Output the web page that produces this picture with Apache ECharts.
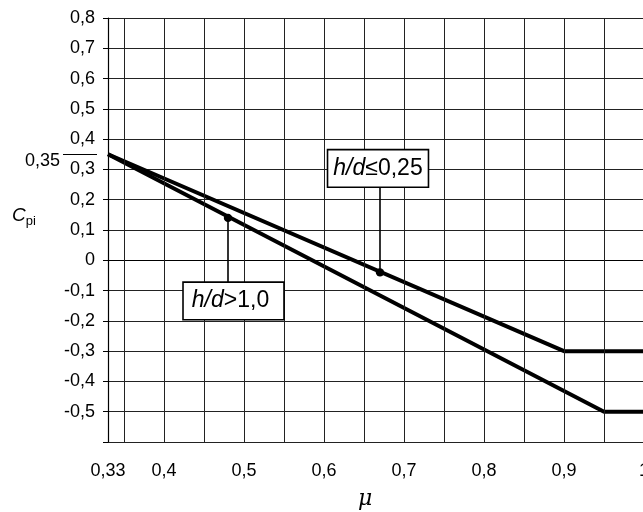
<!DOCTYPE html>
<html><head><meta charset="utf-8">
<script src="https://cdn.jsdelivr.net/npm/echarts@6/dist/echarts.min.js"></script>
<style>html,body{margin:0;padding:0;background:#fff}#c{width:643px;height:512px}</style>
</head><body><div id="c"></div>
<script>
// ---- data ----
const muLow   = [0.33, 0.90, 1.00];      // h/d <= 0,25
const cpiLow  = [0.35, -0.30, -0.30];
const muHigh  = [0.33, 0.95, 1.00];      // h/d > 1,0
const cpiHigh = [0.35, -0.50, -0.50];
const annotMu   = [0.67, 0.48];
const annotCpi  = [-0.04, 0.14];
const annotText = ['{i|h/d}≤0,25', '{i|h/d}>1,0'];
const xLabelValues = [0.33, 0.4, 0.5, 0.6, 0.7, 0.8, 0.9, 1.0];
const xGridValues  = [0.35, 0.40, 0.45, 0.50, 0.55, 0.60, 0.65, 0.70, 0.75, 0.80, 0.85, 0.90, 0.95, 1.00];
const yMarkValues  = [0.35];

const FF = '"Liberation Sans", Arial, sans-serif';
const fmt = v => { const r = Math.round(v * 100) / 100; return r === 0 ? '0' : String(r).replace('.', ','); };

const annotLayout = [
  { dx: -2, dy: -86, va: 'bottom', pad: [7, 5, 6, 5] },
  { dx: 5.5, dy: 65, va: 'top', pad: [6, 14, 7, 8] }
];

const chart = echarts.init(document.getElementById('c'), null, { renderer: 'canvas' });
chart.setOption({
  animation: false,
  backgroundColor: '#fff',
  grid: { left: 108, top: 18, right: -1, bottom: 70, containLabel: false, outerBoundsMode: 'none' },
  xAxis: {
    type: 'value', min: 0.33, max: 1.0,
    axisLine: { show: true, lineStyle: { color: '#000', width: 1.2 } },
    axisTick: { show: true, length: 5, customValues: xLabelValues, lineStyle: { color: '#000' } },
    axisLabel: { customValues: xLabelValues, formatter: fmt, color: '#000', fontSize: 18, fontFamily: FF, margin: 20, hideOverlap: false },
    splitLine: { show: false }
  },
  yAxis: [{
    type: 'value', min: -0.6, max: 0.8, interval: 0.1,
    axisLine: { show: true, lineStyle: { color: '#000', width: 1.2 } },
    axisTick: { show: true, length: 5, lineStyle: { color: '#000' } },
    axisLabel: { formatter: v => (Math.round(v * 10) === -6 ? '' : fmt(v)), color: '#000', fontSize: 18, fontFamily: FF, margin: 13 },
    splitLine: { show: true, lineStyle: { color: '#222', width: 1 } }
  }, {
    type: 'value', min: -0.6, max: 0.8, position: 'left', offset: 11,
    axisLine: { show: false },
    axisTick: { show: true, length: 34, customValues: yMarkValues, lineStyle: { color: '#000', width: 1 } },
    axisLabel: { customValues: yMarkValues, formatter: fmt, color: '#000', fontSize: 18, fontFamily: FF, margin: 37, verticalAlign: 'top', lineHeight: 14 },
    splitLine: { show: false }
  }],
  graphic: [
    { type: 'text', left: 12, top: 206, style: { text: '{c|C}{s|pi}', rich: {
        c: { fontStyle: 'italic', fontSize: 19, fontFamily: FF, lineHeight: 24, fill: '#000' },
        s: { fontSize: 13, fontFamily: FF, verticalAlign: 'bottom', lineHeight: 14, fill: '#000' } } } },
    { type: 'text', left: 358, top: 488, style: { text: 'μ', fontStyle: 'italic', fontSize: 22, fontFamily: '"DejaVu Serif", serif', fill: '#000' } }
  ],
  series: [
    {
      type: 'line', data: [], z: 1, silent: true,
      markLine: { silent: true, symbol: 'none', animation: false, label: { show: false },
        lineStyle: { color: '#222', width: 1, type: 'solid' },
        data: xGridValues.map(v => ({ xAxis: v })) }
    },
    { type: 'line', data: muLow.map((m, i) => [m, cpiLow[i]]), symbol: 'none', z: 3,
      lineStyle: { color: '#000', width: 4 } },
    { type: 'line', data: muHigh.map((m, i) => [m, cpiHigh[i]]), symbol: 'none', z: 3,
      lineStyle: { color: '#000', width: 4 } },
    {
      type: 'custom', z: 5, clip: false,
      data: annotMu.map((m, i) => [m, annotCpi[i]]),
      renderItem: (params, api) => {
        const i = params.dataIndex;
        const p = api.coord([api.value(0), api.value(1)]);
        const L = annotLayout[i];
        const end = p[1] + L.dy;
        return { type: 'group', children: [
          { type: 'line', shape: { x1: p[0], y1: p[1], x2: p[0], y2: end }, style: { stroke: '#000', lineWidth: 1.6 } },
          { type: 'circle', shape: { cx: p[0], cy: p[1], r: 4.2 }, style: { fill: '#000' } },
          { type: 'text', x: p[0] + L.dx, y: end, style: {
              text: annotText[i], align: 'center', verticalAlign: L.va,
              fontSize: 23, fontFamily: FF, fill: '#000',
              backgroundColor: '#fff', borderColor: '#000', borderWidth: 1.6, padding: L.pad,
              rich: { i: { fontStyle: 'italic', fontSize: 23, fontFamily: FF, fill: '#000' } } } }
        ] };
      }
    }
  ]
});
</script></body></html>
